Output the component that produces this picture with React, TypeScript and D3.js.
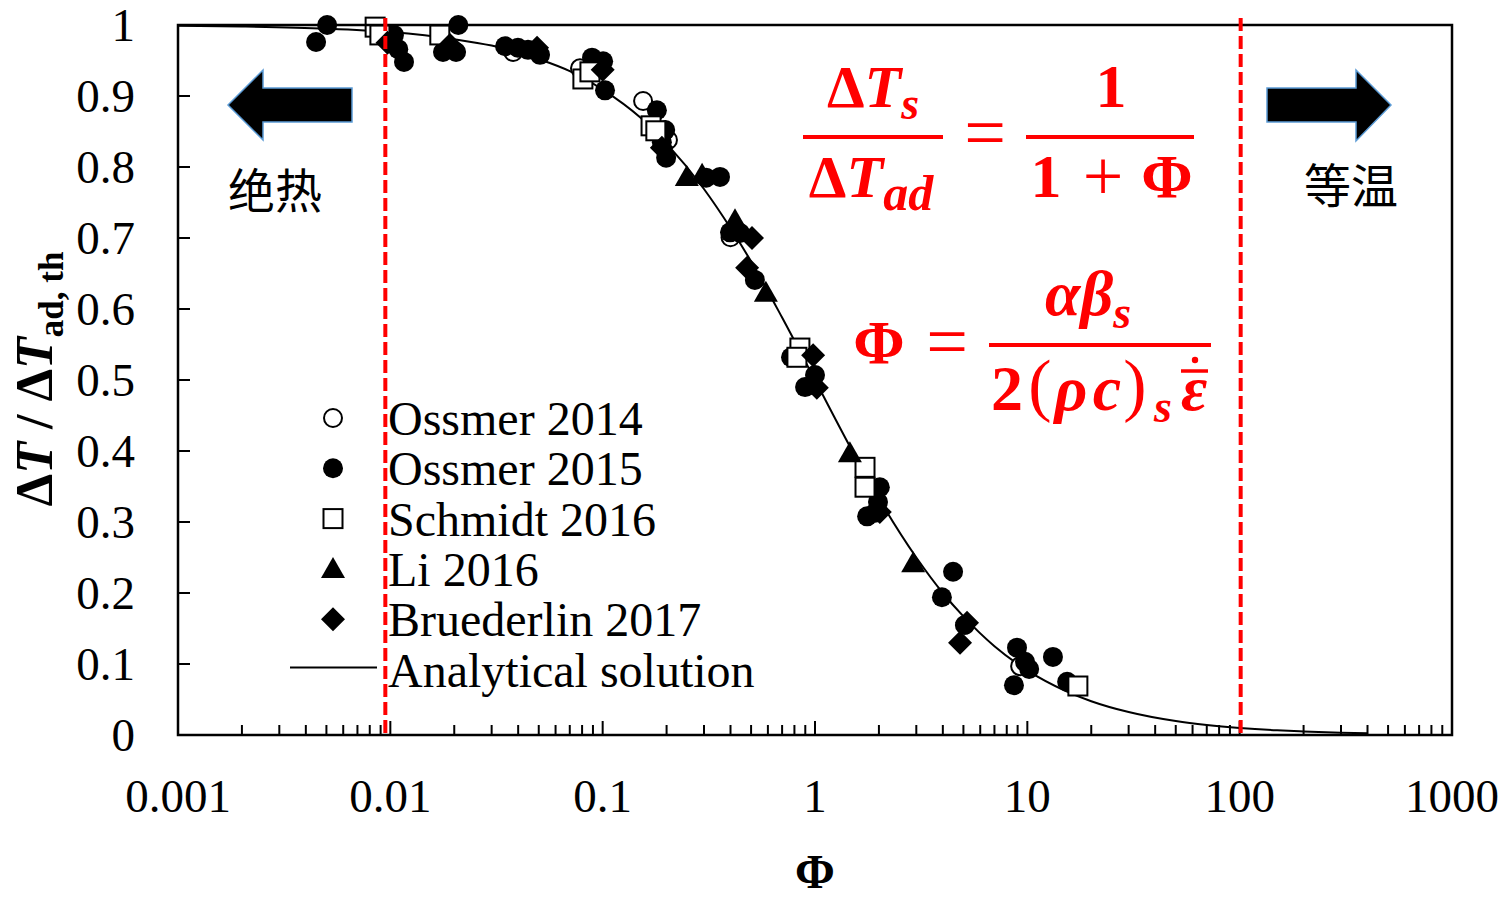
import React from 'react';
import * as d3 from 'd3';

// data: [phi, dT/dTad]
const ossmer2014: [number, number][] = [
  [0.0379, 0.962], [0.0782, 0.939], [0.155, 0.893], [0.203, 0.838], [0.4, 0.701], [9.25, 0.097],
];
const ossmer2015: [number, number][] = [
  [0.00447, 0.976], [0.00504, 1.0], [0.0104, 0.986], [0.0109, 0.966], [0.0116, 0.948],
  [0.0177, 0.962], [0.0204, 0.962], [0.0209, 1.0], [0.0347, 0.97], [0.0399, 0.968],
  [0.0445, 0.965], [0.0507, 0.958], [0.0891, 0.954], [0.1005, 0.949], [0.1026, 0.908],
  [0.18, 0.88], [0.197, 0.852], [0.19, 0.835], [0.199, 0.813], [0.307, 0.785],
  [0.357, 0.786], [0.398, 0.708], [0.444, 0.707], [0.521, 0.641], [0.771, 0.532],
  [1.0, 0.507], [0.898, 0.49], [2.02, 0.349], [1.92, 0.313], [1.76, 0.308],
  [1.98, 0.328], [4.47, 0.23], [3.96, 0.194], [5.08, 0.155], [8.94, 0.123],
  [9.75, 0.103], [10.2, 0.093], [8.65, 0.07], [13.2, 0.11], [15.4, 0.075],
];
const schmidt2016: [number, number][] = [
  [0.00848, 0.997], [0.00893, 0.986], [0.0171, 0.986], [0.0807, 0.924], [0.0871, 0.934],
  [0.169, 0.858], [0.178, 0.851], [0.849, 0.545], [0.822, 0.532], [1.72, 0.377],
  [1.72, 0.349], [17.3, 0.069],
];
const li2016: [number, number][] = [
  [0.249, 0.786], [0.294, 0.789], [0.42, 0.725], [0.587, 0.623], [1.46, 0.397], [2.9, 0.242],
];
const bruederlin2017: [number, number][] = [
  [0.0097, 0.975], [0.0191, 0.972], [0.0491, 0.968], [0.1, 0.937], [0.19, 0.827],
  [0.505, 0.7], [0.479, 0.658], [0.98, 0.535], [1.02, 0.489], [2.02, 0.314],
  [5.2, 0.158], [4.82, 0.13],
];
// analytical solution 1/(1+phi), sampled values
const analytical: [number, number][] = [
  [0.001, 0.999], [0.002, 0.998], [0.005, 0.995], [0.01, 0.99], [0.02, 0.98],
  [0.03, 0.971], [0.05, 0.952], [0.07, 0.935], [0.1, 0.909], [0.15, 0.87],
  [0.2, 0.833], [0.3, 0.769], [0.4, 0.714], [0.5, 0.667], [0.7, 0.588],
  [1, 0.5], [1.5, 0.4], [2, 0.333], [3, 0.25], [4, 0.2], [5, 0.167], [7, 0.125],
  [10, 0.0909], [15, 0.0625], [20, 0.0476], [30, 0.0323], [50, 0.0196], [70, 0.0141],
  [100, 0.0099], [150, 0.0066], [200, 0.005], [300, 0.0033], [400, 0.0025],
];
const xTickLabels = ['0.001', '0.01', '0.1', '1', '10', '100', '1000'];
const yTickValues = [0, 0.1, 0.2, 0.3, 0.4, 0.5, 0.6, 0.7, 0.8, 0.9, 1];
const legendLabels = ['Ossmer 2014', 'Ossmer 2015', 'Schmidt 2016', 'Li 2016', 'Bruederlin 2017', 'Analytical solution'];
const boundaries = [0.01, 100];

const serif = '"Liberation Serif", "Times New Roman", serif';
const cjk = '"Noto Sans CJK SC", sans-serif';
const RED = '#ff0000';

const left = 178, right = 1452, top = 25, bottom = 735;

type Shape = 'openCircle' | 'circle' | 'square' | 'triangle' | 'diamond';

function Marker({ shape, cx, cy }: { shape: Shape; cx: number; cy: number }) {
  if (shape === 'openCircle')
    return <circle cx={cx} cy={cy} r={9} fill="#fff" stroke="#000" strokeWidth={2} />;
  if (shape === 'circle') return <circle cx={cx} cy={cy} r={10} fill="#000" />;
  if (shape === 'square')
    return <rect x={cx - 9.5} y={cy - 9.5} width={19} height={19} fill="#fff" stroke="#000" strokeWidth={2} />;
  if (shape === 'triangle')
    return <path d={`M${cx},${cy - 12}L${cx + 12},${cy + 9}L${cx - 12},${cy + 9}Z`} fill="#000" />;
  return <path d={`M${cx},${cy - 12}L${cx + 12},${cy}L${cx},${cy + 12}L${cx - 12},${cy}Z`} fill="#000" />;
}

export default function App() {
  const x = d3.scaleLog().domain([0.001, 1000]).range([left, right]);
  const y = d3.scaleLinear().domain([0, 1]).range([bottom, top]);

  const line = d3
    .line<[number, number]>()
    .x((d) => x(d[0]))
    .y((d) => y(d[1]))
    .curve(d3.curveMonotoneX);

  const series: { shape: Shape; data: [number, number][] }[] = [
    { shape: 'openCircle', data: ossmer2014 },
    { shape: 'circle', data: ossmer2015 },
    { shape: 'square', data: schmidt2016 },
    { shape: 'triangle', data: li2016 },
    { shape: 'diamond', data: bruederlin2017 },
  ];

  const isDecade = (t: number) => Math.abs(Math.log10(t) - Math.round(Math.log10(t))) < 1e-6;
  const majors = x.ticks().filter(isDecade);
  const minors = x.ticks().filter((t) => !isDecade(t));

  const legendX = 333, legendY0 = 418, legendStep = 50.3;

  return (
    <svg width={1509} height={900} style={{ position: 'absolute', left: 0, top: 0, background: '#fff' }}>
      <rect width={1509} height={900} fill="#fff" />

      {/* axis ticks */}
      {majors.map((t) => (
        <line key={'M' + t} x1={x(t)} x2={x(t)} y1={bottom} y2={bottom - 14} stroke="#000" strokeWidth={2} />
      ))}
      {minors.map((t) => (
        <line key={'m' + t} x1={x(t)} x2={x(t)} y1={bottom} y2={bottom - 10} stroke="#000" strokeWidth={2} />
      ))}
      {yTickValues.map((v) => (
        <line key={'y' + v} x1={left} x2={left + 12} y1={y(v)} y2={y(v)} stroke="#000" strokeWidth={2} />
      ))}

      {/* tick labels */}
      {xTickLabels.map((s) => (
        <text key={s} x={x(+s)} y={812} textAnchor="middle" fontFamily={serif} fontSize={47} fill="#000">
          {s}
        </text>
      ))}
      {yTickValues.map((v) => (
        <text key={'yl' + v} x={135} y={y(v) + 16} textAnchor="end" fontFamily={serif} fontSize={47} fill="#000">
          {d3.format('~g')(v)}
        </text>
      ))}

      {/* analytical curve */}
      <path d={line(analytical) || ''} fill="none" stroke="#000" strokeWidth={2} />

      {/* data points */}
      {series.map((s) =>
        s.data.map((d, i) => <Marker key={s.shape + i} shape={s.shape} cx={x(d[0])} cy={y(d[1])} />)
      )}

      {/* frame */}
      <rect x={left} y={top} width={right - left} height={bottom - top} fill="none" stroke="#000" strokeWidth={2.5} />

      {/* legend */}
      {legendLabels.map((label, i) => {
        const cy = legendY0 + i * legendStep;
        return (
          <g key={label}>
            {i < 5 ? (
              <Marker shape={series[i].shape} cx={legendX} cy={cy} />
            ) : (
              <line x1={290} x2={377} y1={cy - 2} y2={cy - 2} stroke="#000" strokeWidth={2} />
            )}
            <text x={388} y={cy + 17} fontFamily={serif} fontSize={48} fill="#000">
              {label}
            </text>
          </g>
        );
      })}

      {/* boundary lines */}
      {boundaries.map((b) => {
        const bx = x(b) + (b < 1 ? -5 : 1);
        return (
          <line key={'b' + b} x1={bx} x2={bx} y1={18} y2={bottom} stroke={RED} strokeWidth={4} strokeDasharray="13 5" />
        );
      })}

      {/* arrows */}
      <path d="M228,105 L263,70 L263,88 L352,88 L352,122 L263,122 L263,140 Z" fill="#000" stroke="#5b9bd5" strokeWidth={1.5} />
      <path d="M1391,105 L1356,70 L1356,88 L1267,88 L1267,122 L1356,122 L1356,141 Z" fill="#000" stroke="#5b9bd5" strokeWidth={1.5} />
      <text x={228} y={208} fontFamily={cjk} fontSize={47} fill="#000">绝热</text>
      <text x={1304} y={203} fontFamily={cjk} fontSize={47} fill="#000">等温</text>

      {/* formula 1 */}
      <g fill={RED} fontFamily={serif} fontWeight="bold">
        <text x={873} y={107} textAnchor="middle" fontSize={60}>
          <tspan>Δ</tspan>
          <tspan fontStyle="italic">T</tspan>
          <tspan fontStyle="italic" fontSize={46} dy={12}>s</tspan>
        </text>
        <line x1={803} x2={943} y1={137} y2={137} stroke={RED} strokeWidth={4} />
        <text x={871} y={197} textAnchor="middle" fontSize={60}>
          <tspan>Δ</tspan>
          <tspan fontStyle="italic">T</tspan>
          <tspan fontStyle="italic" fontSize={50} dy={13}>ad</tspan>
        </text>
        <text x={985} y={157} textAnchor="middle" fontSize={74} fontWeight="normal">=</text>
        <line x1={1026} x2={1194} y1={137} y2={137} stroke={RED} strokeWidth={4} />
        <text x={1111} y={107} textAnchor="middle" fontSize={62}>1</text>
        <text x={1046} y={197} textAnchor="middle" fontSize={62}>1</text>
        <text x={1103} y={200} textAnchor="middle" fontSize={72} fontWeight="normal">+</text>
        <text x={1167} y={197} textAnchor="middle" fontSize={62}>Φ</text>

        {/* formula 2 */}
        <text x={879} y={363} textAnchor="middle" fontSize={62}>Φ</text>
        <text x={947} y={366} textAnchor="middle" fontSize={74} fontWeight="normal">=</text>
        <line x1={989} x2={1211} y1={345} y2={345} stroke={RED} strokeWidth={4} />
        <text x={1045} y={315} fontSize={64} fontStyle="italic">
          <tspan>αβ</tspan>
          <tspan fontSize={46} dy={13}>s</tspan>
        </text>
        <text x={1007} y={410} textAnchor="middle" fontSize={64}>2</text>
        <text x={1040} y={408} textAnchor="middle" fontSize={70} fontWeight="normal">(</text>
        <text x={1071} y={410} textAnchor="middle" fontSize={64} fontStyle="italic">ρ</text>
        <text x={1107} y={410} textAnchor="middle" fontSize={64} fontStyle="italic">c</text>
        <text x={1135} y={408} textAnchor="middle" fontSize={70} fontWeight="normal">)</text>
        <text x={1163} y={422} textAnchor="middle" fontSize={46} fontStyle="italic">s</text>
        <text x={1194} y={410} textAnchor="middle" fontSize={64} fontStyle="italic">ε</text>
        <line x1={1181} x2={1208} y1={371} y2={371} stroke={RED} strokeWidth={3.5} />
        <circle cx={1195} cy={360} r={3.2} />
      </g>

      {/* axis titles */}
      <text transform="translate(52,379) rotate(-90)" textAnchor="middle" fontFamily={serif} fontWeight="bold" fontSize={52} fill="#000">
        <tspan>Δ</tspan>
        <tspan fontStyle="italic">T</tspan>
        <tspan> / Δ</tspan>
        <tspan fontStyle="italic">T</tspan>
        <tspan fontSize={35} dy={11}>ad, th</tspan>
      </text>
      <text x={815} y={888} textAnchor="middle" fontFamily={serif} fontWeight="bold" fontSize={48} fill="#000">Φ</text>
    </svg>
  );
}
